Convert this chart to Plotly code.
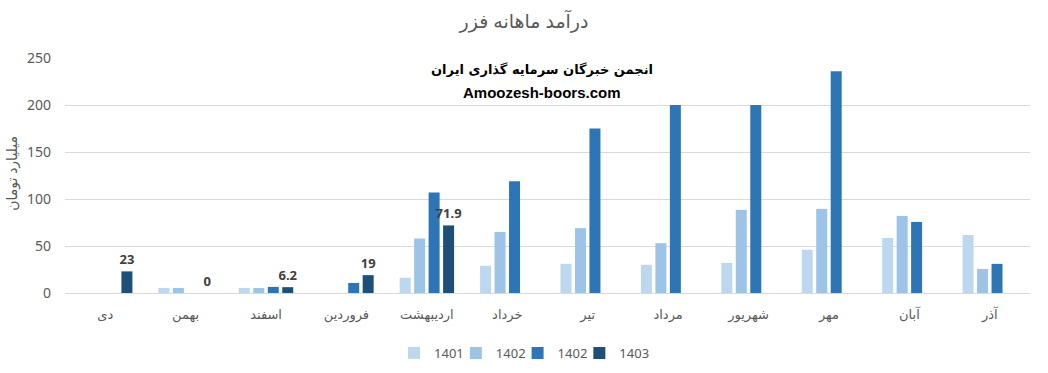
import plotly.graph_objects as go

months = ["دی", "بهمن", "اسفند", "فروردین", "اردیبهشت", "خرداد", "تیر", "مرداد", "شهریور", "مهر", "آبان", "آذر"]
series_names = ["1401", "1402", "1402", "1403"]
s1401 = [None, 5.3, 5.3, None, 16.3, 29, 31, 30, 32, 46, 58.5, 61.7]
s1402a = [None, 5.3, 5.3, None, 58, 65, 69, 53, 88.5, 89.5, 82, 25.6]
s1402b = [None, None, 6.5, 10.7, 107, 119, 175, 200, 200, 236, 75.6, 31]
s1403 = [23, 0, 6.2, 19, 71.9, None, None, None, None, None, None, None]
s1403_labels = ["23", "0", "6.2", "19", "71.9", "", "", "", "", "", "", ""]
colors = ["#BDD7EE", "#9DC3E6", "#2E75B6", "#1F4E79"]

font_main = "Segoe UI, Noto Sans, DejaVu Sans, sans-serif"
legend_ids = ["legend", "legend2", "legend3", "legend4"]
legend_x = [0.341, 0.405, 0.469, 0.533]

fig = go.Figure()
for name, vals, col, lg in zip(series_names[:3], [s1401, s1402a, s1402b], colors[:3], legend_ids[:3]):
    fig.add_trace(go.Bar(x=months, y=vals, name=name, marker_color=col, marker_line_width=0, legend=lg))
fig.add_trace(go.Bar(
    x=months, y=s1403, name=series_names[3], marker_color=colors[3], marker_line_width=0,
    legend=legend_ids[3],
    text=s1403_labels, textposition="outside", cliponaxis=False, constraintext="none",
    textfont=dict(family="Segoe UI, Noto Sans, DejaVu Sans", size=13, color="#404040", weight="bold"),
))

legend_common = dict(orientation="h", xanchor="left", y=-0.255, yanchor="middle",
                     font=dict(size=13, color="#595959"), itemwidth=30, bgcolor="rgba(0,0,0,0)")

fig.update_layout(
    width=1048, height=373,
    margin=dict(l=65, r=18, t=58, b=80, autoexpand=False),
    paper_bgcolor="white", plot_bgcolor="white",
    barmode="group", bargap=0.28, bargroupgap=0.24,
    font=dict(family=font_main, color="#595959", size=13),
    title=dict(text="درآمد ماهانه فزر", x=0.5, xanchor="center", y=0.942, yanchor="middle",
               font=dict(size=19, color="#595959")),
    showlegend=True,
    legend=dict(x=legend_x[0], **legend_common),
    legend2=dict(x=legend_x[1], **legend_common),
    legend3=dict(x=legend_x[2], **legend_common),
    legend4=dict(x=legend_x[3], **legend_common),
    xaxis=dict(showgrid=False, showline=True, linecolor="#D9D9D9", linewidth=1, ticks="",
               ticklabelstandoff=9, tickfont=dict(size=13, color="#595959")),
    yaxis=dict(range=[0, 250], dtick=50, showgrid=True, gridcolor="#D9D9D9", gridwidth=1,
               zeroline=False, showline=False, ticks="", ticklabelstandoff=13,
               tickfont=dict(size=14, color="#595959")),
    annotations=[
        dict(text="<b>انجمن خبرگان سرمایه گذاری ایران</b>", x=0.494, y=0.992, xref="paper", yref="paper",
             showarrow=False, font=dict(size=13, color="black", family="DejaVu Sans, Noto Sans")),
        dict(text="<b>Amoozesh-boors.com</b>", x=0.494, y=0.900, xref="paper", yref="paper",
             showarrow=False, font=dict(size=15, color="black", family="Liberation Sans, Arial")),
        dict(text="میلیارد تومان", x=-0.0554, y=0.51, xref="paper", yref="paper", textangle=-90,
             xanchor="center", yanchor="middle",
             showarrow=False, font=dict(size=14, color="#595959")),
    ],
)

fig.write_html("out.html")
